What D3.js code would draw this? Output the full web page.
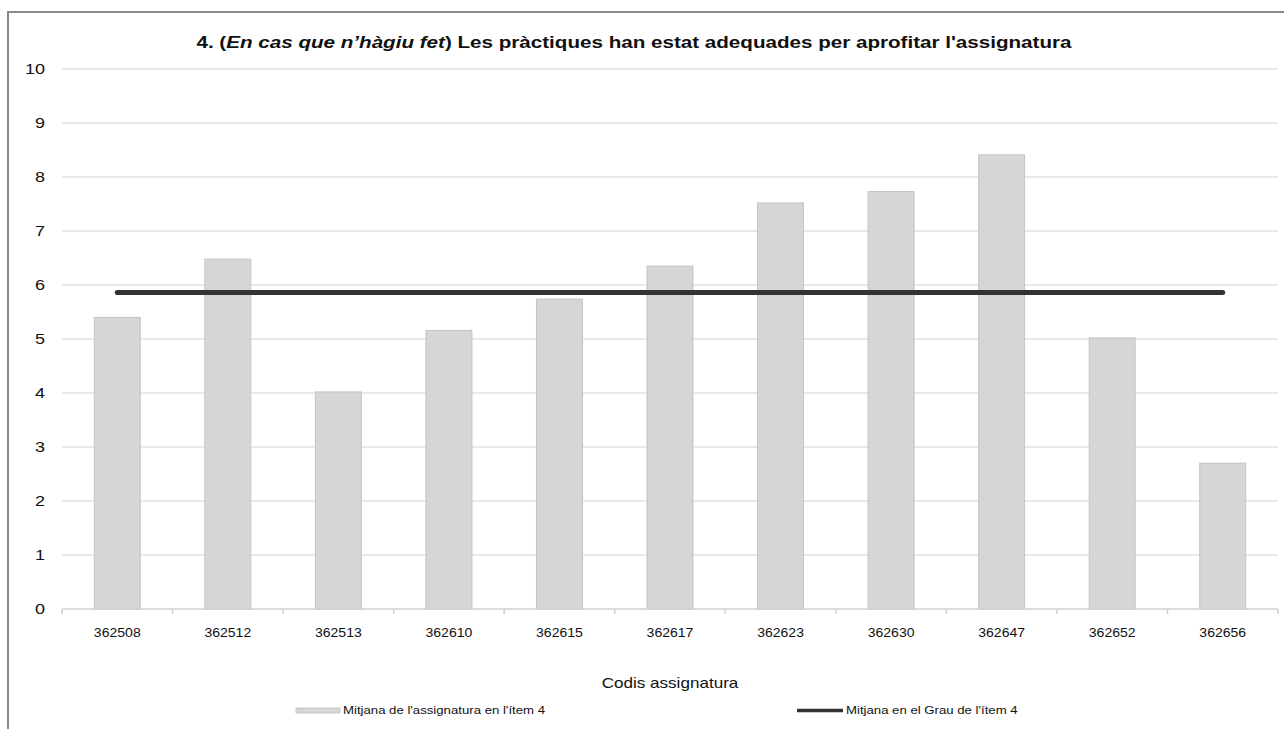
<!DOCTYPE html>
<html><head><meta charset="utf-8">
<script src="https://cdn.jsdelivr.net/npm/d3@7"></script>
<style>body{margin:0;background:#fff;font-family:"Liberation Sans",Arial,sans-serif;}</style>
</head><body><svg id="c" width="1284" height="729"></svg>
<script>
const categories = ["362508","362512","362513","362610","362615","362617","362623","362630","362647","362652","362656"];
const subjectMeans = [5.40,6.48,4.02,5.16,5.74,6.35,7.52,7.73,8.41,5.02,2.70];
const degreeMean = 5.86;
const yTicks = [0,1,2,3,4,5,6,7,8,9,10];
const seriesNames = ["Mitjana de l'assignatura en l'ítem 4","Mitjana en el Grau de l'ítem 4"];

(function(){
const svg = d3.select("#c");
const FF = "Liberation Sans, Arial, sans-serif";
// horizontal stretch about anchor x
function stretch(sel, ax, sx){ sel.attr("transform", `translate(${ax},0) scale(${sx},1) translate(${-ax},0)`); }

// outer frame
svg.append("rect").attr("x",8).attr("y",12).attr("width",1290).attr("height",730)
  .attr("fill","#fff").attr("stroke","#8a8a8a").attr("stroke-width",2);

const pL=62, pR=1278, pT=69, pB=609;
const x = d3.scaleBand().domain(categories).range([pL,pR]).paddingInner(0.584).paddingOuter(0.292);
const y = d3.scaleLinear().domain([0,10]).range([pB,pT]);

// gridlines
svg.append("g").selectAll("line").data(yTicks.filter(d=>d>0)).join("line")
  .attr("x1",pL).attr("x2",pR).attr("y1",d=>y(d)).attr("y2",d=>y(d))
  .attr("stroke","#e2e2e2").attr("stroke-width",1.5);

// y axis labels
const yPad = 17;
const ya = svg.append("g").attr("transform",`translate(${pL},0)`)
  .call(d3.axisLeft(y).tickValues(yTicks).tickSize(0).tickPadding(yPad));
ya.select(".domain").remove();
ya.selectAll("text").attr("font-size",15).attr("fill","#111").attr("font-family",FF)
  .each(function(){ stretch(d3.select(this), -yPad, 1.2); });

// bars
svg.append("g").selectAll("rect").data(categories).join("rect")
  .attr("x",d=>x(d)).attr("width",x.bandwidth())
  .attr("y",(d,i)=>y(subjectMeans[i])).attr("height",(d,i)=>y(0)-y(subjectMeans[i]))
  .attr("fill","#d6d6d6").attr("stroke","#c4c4c4").attr("stroke-width",1);

// x axis
const xOuter = d3.scalePoint().domain(d3.range(categories.length+1)).range([pL,pR]);
const xa = svg.append("g").attr("transform",`translate(0,${pB})`);
xa.append("line").attr("x1",pL).attr("x2",pR).attr("stroke","#d0d0d0").attr("stroke-width",1.5);
xa.selectAll("line.t").data(xOuter.domain()).join("line").attr("class","t")
  .attr("x1",d=>xOuter(d)).attr("x2",d=>xOuter(d)).attr("y1",0).attr("y2",5)
  .attr("stroke","#d0d0d0").attr("stroke-width",1.5);
const xl = svg.append("g").attr("transform",`translate(0,${pB})`)
  .call(d3.axisBottom(x).tickSize(0).tickPadding(19));
xl.select(".domain").remove();
xl.selectAll("text").attr("font-size",12).attr("fill","#111").attr("font-family",FF)
  .each(function(){ stretch(d3.select(this), 0, 1.17); });

// degree mean line
const line = d3.line().x(d=>x(d)+x.bandwidth()/2).y(()=>y(degreeMean));
svg.append("path").datum([categories[0],categories[categories.length-1]]).attr("d",line)
  .attr("stroke","#333").attr("stroke-width",5).attr("fill","none").attr("stroke-linecap","round");

// title
const t = svg.append("text").attr("x",634).attr("y",48).attr("text-anchor","middle")
  .attr("font-size",16.5).attr("font-weight","bold").attr("fill","#111").attr("font-family",FF);
t.append("tspan").text("4. (");
t.append("tspan").attr("font-style","italic").text("En cas que n’hàgiu fet");
t.append("tspan").text(") Les pràctiques han estat adequades per aprofitar l'assignatura");
stretch(t, 634, 1.25);

// x title
const xt = svg.append("text").attr("x",670).attr("y",688).attr("text-anchor","middle")
  .attr("font-size",14).attr("fill","#111").attr("font-family",FF).text("Codis assignatura");
stretch(xt, 670, 1.22);

// legend
const lg = svg.append("g");
lg.append("rect").attr("x",296).attr("y",708).attr("width",44).attr("height",5).attr("fill","#d6d6d6").attr("stroke","#c4c4c4").attr("stroke-width",0.8);
const l1 = lg.append("text").attr("x",343).attr("y",714.5).attr("font-size",11).attr("fill","#111").attr("font-family",FF).text(seriesNames[0]);
stretch(l1, 343, 1.2);
lg.append("line").attr("x1",797).attr("x2",843).attr("y1",710.5).attr("y2",710.5).attr("stroke","#333").attr("stroke-width",3.5);
const l2 = lg.append("text").attr("x",846).attr("y",714.5).attr("font-size",11).attr("fill","#111").attr("font-family",FF).text(seriesNames[1]);
stretch(l2, 846, 1.2);
})();
</script></body></html>
